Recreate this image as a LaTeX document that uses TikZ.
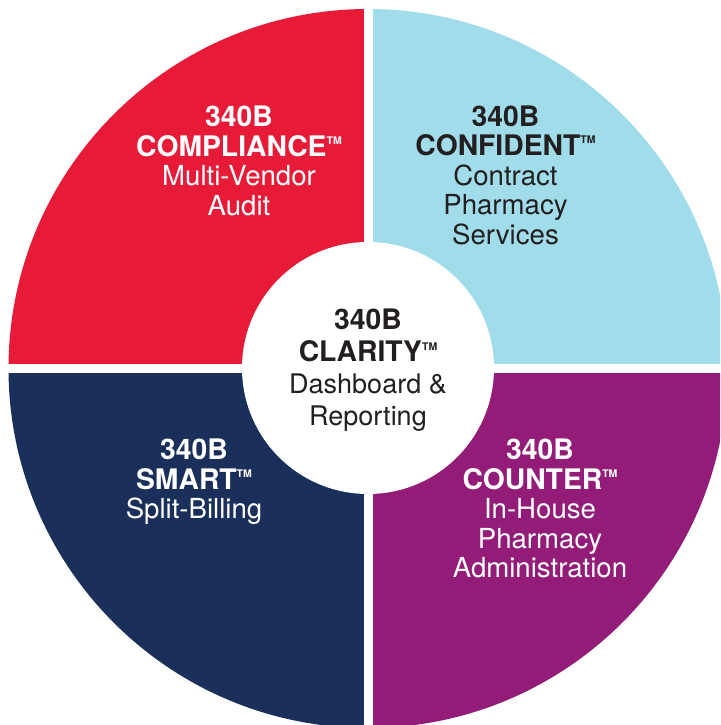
\documentclass[tikz,border=0pt]{standalone}
\usepackage{fontspec}
\setmainfont{TeX Gyre Heros}
\definecolor{cred}{HTML}{E71B38}
\definecolor{cblue}{HTML}{A0DCEA}
\definecolor{cnavy}{HTML}{1B2F5B}
\definecolor{cpurple}{HTML}{931C78}
\definecolor{cink}{HTML}{231F20}
\newcommand{\tm}{\raisebox{0.42em}{\fontsize{10.5}{11}\selectfont\bfseries TM}}
\newcommand{\hd}[1]{{\fontsize{28.3}{29.5}\selectfont\bfseries #1}}
\tikzset{
  x=1pt,y=-1pt,
  label text/.style={align=center,inner sep=0pt,font=\fontsize{27.6}{29.5}\selectfont},
  white text/.style={label text,text=white},
  dark text/.style={label text,text=cink}
}
\begin{document}
\begin{tikzpicture}
\useasboundingbox (0,0) rectangle (720,725);
\fill[white] (0,0) rectangle (720,725);
\begin{scope}
\clip (0,0) rectangle (720,725);
\begin{scope}
\clip (368,368.5) circle[radius=359.5];
\fill[cred] (0,0) rectangle (363.5,364);
\fill[cblue] (373,0) rectangle (728,364);
\fill[cnavy] (0,373) rectangle (363.5,728);
\fill[cpurple] (373,373) rectangle (728,728);
\end{scope}
\end{scope}
\node[circle,fill=white,draw=none,minimum size=252pt,inner sep=0pt] (hub) at (368,368) {};
\node[white text] (compliance) at (239,161) {\hd{340B}\\\hd{COMPLIANCE}\tm\\Multi-Vendor\\Audit};
\node[dark text] (confident) at (505.5,175) {\hd{340B}\\\hd{CONFIDENT}\tm\\Contract\\Pharmacy\\Services};
\node[dark text,font=\fontsize{27}{32}\selectfont] (clarity) at (368,370) {\hd{340B}\\\hd{CLARITY}\tm\\Dashboard \&\\Reporting};
\node[white text] (smart) at (194,482) {\hd{340B}\\\hd{SMART}\tm\\Split-Billing};
\node[white text] (counter) at (540,508.5) {\hd{340B}\\\hd{COUNTER}\tm\\In-House\\Pharmacy\\Administration};
\end{tikzpicture}
\end{document}
